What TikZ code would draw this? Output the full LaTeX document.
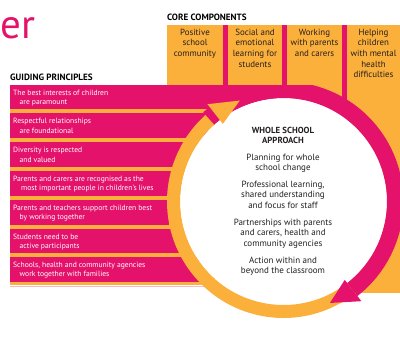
\documentclass[tikz,border=0pt]{standalone}
\usepackage{fontspec}
\setmainfont{PT Sans}
\definecolor{kpink}{HTML}{E5126B}
\definecolor{korange}{HTML}{FBB03B}
\definecolor{ktext}{HTML}{231F20}
\definecolor{klight}{HTML}{F6B9CC}
\tikzset{
  rowtext/.style={anchor=base west, inner sep=0, text=white, font=\fontsize{7.6}{9}\selectfont},
  coltext/.style={anchor=north, inner sep=0, text=ktext, align=center, font=\fontsize{8.9}{10.7}\selectfont},
  circtext/.style={anchor=north, inner sep=0, text=ktext, align=center, font=\fontsize{9}{10.7}\selectfont},
  headtext/.style={anchor=base west, inner sep=0, text=black, font=\bfseries\fontsize{9.1}{9}\selectfont}
}
\begin{document}
\begin{tikzpicture}[x=1pt,y=-1pt]
\useasboundingbox (0,0) rectangle (400,340);
% backgrounds
\fill[korange] (167,25) rectangle (400,100);
\fill[korange] (347,25) rectangle (400,293);
\fill[korange] (10,85) rectangle (215,285);
\draw[klight, line width=0.8] (10,286.2) -- (205,286.2);
% column separators
\fill[kpink] (223,25) rectangle (228,92);
\fill[kpink] (282,25) rectangle (287,92);
\fill[kpink] (342,25) rectangle (347,100);
% rows
\fill[kpink] (10,85) rectangle (285,109);
\fill[kpink] (10,113) rectangle (208,138);
\fill[kpink] (10,142) rectangle (183.3,167);
\fill[kpink] (10,171) rectangle (171.1,196);
\fill[kpink] (10,200) rectangle (169.2,224.5);
\fill[kpink] (10,228.5) rectangle (179,253);
\fill[kpink] (10,257) rectangle (199.3,282);
% circle
\begin{scope}[shift={(283.5,201.5)}]
  \fill[white] (0,0) circle (103.5);
  \fill[korange] (56:116.5) arc[start angle=56,end angle=232,radius=116.5]
     -- (232:103.5) arc[start angle=232,end angle=56,radius=103.5] -- cycle;
  \begin{scope}
    \clip (-300,-116.5) rectangle (200,200);
    \fill[kpink] (228:120) arc[start angle=228,end angle=412,radius=120]
       -- (412:103.5) arc[start angle=412,end angle=228,radius=103.5] -- cycle;
  \end{scope}
  \fill[kpink] (412:99.5) -- (425.4:111.6) -- (412:126.5) -- cycle;
  \fill[korange] (232:98.5) -- (246.6:110) -- (232:123.5) -- cycle;
\end{scope}
% title and headings
\node[anchor=base west, inner sep=0, text=kpink, font=\fontsize{41}{41}\selectfont] (title) at (0,38) {er};
\node[headtext] (core) at (167,20.5) {CORE COMPONENTS};
\node[headtext] (guide) at (10,80.5) {GUIDING PRINCIPLES};
% columns
\node[coltext] (c1) at (195,28.5) {Positive\\school\\community};
\node[coltext] (c2) at (255,28.5) {Social and\\emotional\\learning for\\students};
\node[coltext] (c3) at (314.5,28.5) {Working\\with parents\\and carers};
\node[coltext] (c4) at (373.5,28.5) {Helping\\children\\with mental\\health\\difficulties};
% rows text
\node[rowtext] (r1a) at (13,95.5) {The best interests of children};
\node[rowtext] (r1b) at (19.5,104.5) {are paramount};
\node[rowtext] (r2a) at (13,124) {Respectful relationships};
\node[rowtext] (r2b) at (19.5,133) {are foundational};
\node[rowtext] (r3a) at (13,153) {Diversity is respected};
\node[rowtext] (r3b) at (19.5,162) {and valued};
\node[rowtext] (r4a) at (13,181.5) {Parents and carers are recognised as the};
\node[rowtext] (r4b) at (21,190.5) {most important people in children's lives};
\node[rowtext] (r5a) at (13,210.5) {Parents and teachers support children best};
\node[rowtext] (r5b) at (19.5,219.5) {by working together};
\node[rowtext] (r6a) at (13,239) {Students need to be};
\node[rowtext] (r6b) at (19.5,248) {active participants};
\node[rowtext] (r7a) at (13,267.5) {Schools, health and community agencies};
\node[rowtext] (r7b) at (19.5,276.5) {work together with families};
% circle text
\node[circtext, font=\bfseries\fontsize{8.8}{10.5}\selectfont] (w0) at (283,127) {WHOLE SCHOOL\\APPROACH};
\node[circtext] (w1) at (283,153.5) {Planning for whole\\school change};
\node[circtext] (w2) at (283,180.5) {Professional learning,\\shared understanding\\and focus for staff};
\node[circtext] (w3) at (283,218.5) {Partnerships with parents\\and carers, health and\\community agencies};
\node[circtext] (w4) at (283,256.5) {Action within and\\beyond the classroom};
\end{tikzpicture}
\end{document}
